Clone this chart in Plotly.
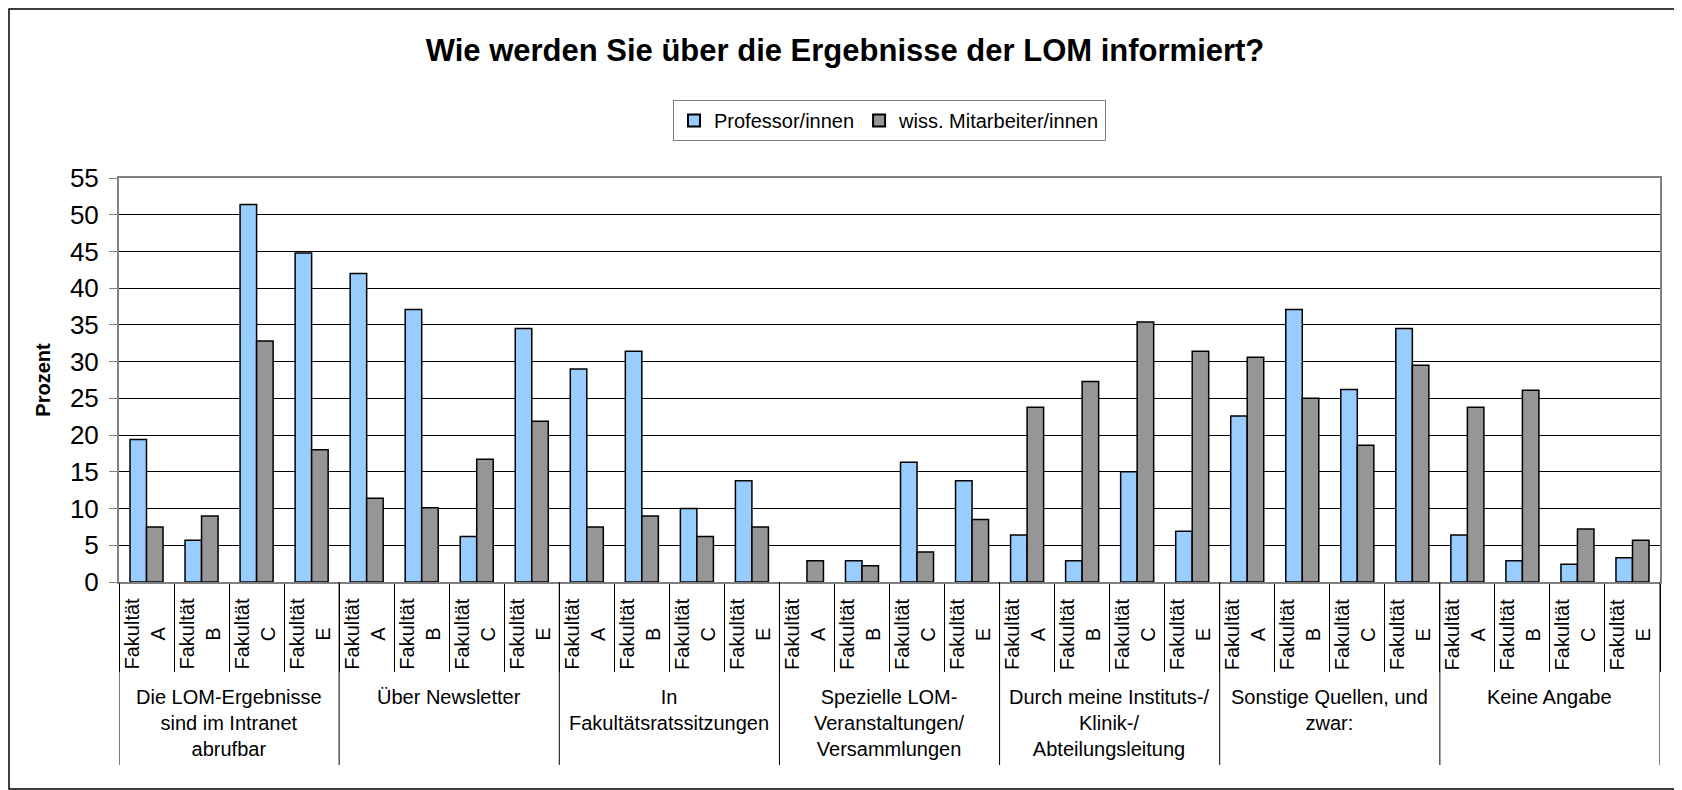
import plotly.graph_objects as go

title_text = "Wie werden Sie über die Ergebnisse der LOM informiert?"
y_title = "Prozent"
series_names = ["Professor/innen", "wiss. Mitarbeiter/innen"]

groups = [
    "Die LOM-Ergebnisse<br>sind im Intranet<br>abrufbar",
    "Über Newsletter",
    "In<br>Fakultätsratssitzungen",
    "Spezielle LOM-<br>Veranstaltungen/<br>Versammlungen",
    "Durch meine Instituts-/<br>Klinik-/<br>Abteilungsleitung",
    "Sonstige Quellen, und<br>zwar:",
    "Keine Angabe",
]
faculties = ["A", "B", "C", "E"]

prof = [19.4, 5.7, 51.4, 44.8,
        42.0, 37.1, 6.2, 34.5,
        29.0, 31.4, 10.0, 13.8,
        None, 2.9, 16.3, 13.8,
        6.4, 2.9, 15.0, 6.9,
        22.6, 37.1, 26.2, 34.5,
        6.4, 2.9, 2.4, 3.3]
staff = [7.5, 9.0, 32.8, 18.0,
         11.4, 10.1, 16.7, 21.9,
         7.5, 9.0, 6.2, 7.5,
         2.9, 2.2, 4.1, 8.5,
         23.8, 27.3, 35.4, 31.4,
         30.6, 25.0, 18.6, 29.5,
         23.8, 26.1, 7.2, 5.7]

y_ticks = list(range(0, 56, 5))

FONT = "Liberation Sans, Arial, sans-serif"

# category keys (one per group/faculty pair)
cats = [f"G{gi + 1} Fakultät {f}" for gi in range(len(groups)) for f in faculties]

OFF = 8  # page body margin
W, H = 1682 - OFF, 790 - OFF
L = 119 - OFF
R = W - (1660 - OFF)
T = 178 - OFF
B = H - (582 - OFF)
plot_w = W - L - R
plot_h = H - T - B


def py(page_y):
    """page pixel y -> paper y"""
    return (H - B - (page_y - OFF)) / plot_h


def px(page_x):
    return (page_x - OFF - L) / plot_w


fig = go.Figure()
fig.add_trace(go.Bar(x=cats, y=prof, name=series_names[0],
                     marker=dict(color="#99CCFF", line=dict(color="black", width=1.5))))
fig.add_trace(go.Bar(x=cats, y=staff, name=series_names[1],
                     marker=dict(color="#969696", line=dict(color="black", width=1.5))))

annotations = []
# inner labels
for i, c in enumerate(cats):
    f = faculties[i % len(faculties)]
    annotations.append(dict(
        x=i, y=py(634), xref="x", yref="paper",
        text=f"Fakultät<br>{f}", textangle=-90, showarrow=False,
        xanchor="center", yanchor="middle", xshift=-2,
        font=dict(family=FONT, size=20, color="black")))
# group labels
n = len(faculties)
for gi, g in enumerate(groups):
    annotations.append(dict(
        x=gi * n + (n - 1) / 2, y=py(684), xref="x", yref="paper",
        text=g, showarrow=False, xanchor="center", yanchor="top",
        font=dict(family=FONT, size=20, color="black")))

shapes = []
for gi in range(len(groups) + 1):
    shapes.append(dict(type="line", xref="x", yref="paper",
                       x0=gi * n - 0.5, x1=gi * n - 0.5, y0=0, y1=py(765),
                       line=dict(color="black", width=1)))
# outer chart border
shapes.append(dict(type="rect", xref="paper", yref="paper",
                   x0=px(9), x1=px(1681), y0=py(789), y1=py(9),
                   line=dict(color="black", width=1.5), layer="below"))

fig.update_layout(
    width=W, height=H,
    margin=dict(l=L, r=R, t=T, b=B),
    paper_bgcolor="white", plot_bgcolor="white",
    font=dict(family=FONT, color="black"),
    title=dict(text=f"<b>{title_text}</b>", x=0.5, xref="container",
               y=1 - (50 - OFF) / H, yref="container", yanchor="middle", xanchor="center",
               font=dict(family=FONT, size=31, color="black")),
    barmode="group", bargap=0.4, bargroupgap=0,
    showlegend=True,
    legend=dict(orientation="h", x=0.5, xanchor="center", y=py(100), yanchor="top",
                bordercolor="#808080", borderwidth=1, bgcolor="white",
                font=dict(family=FONT, size=20, color="black"),
                itemsizing="constant", tracegroupgap=0),
    annotations=annotations,
    shapes=shapes,
)

fig.update_xaxes(
    type="category", categoryorder="array", categoryarray=cats,
    showticklabels=False, tickson="boundaries", ticks="outside",
    ticklen=88, tickcolor="black", tickwidth=1,
    showline=True, linecolor="#808080", linewidth=2, mirror=True,
    showgrid=False, range=[-0.5, len(cats) - 0.5],
)
fig.update_yaxes(
    range=[0, 55], tickvals=y_ticks, ticks="outside", ticklen=8, tickcolor="#808080",
    tickfont=dict(family=FONT, size=26, color="black"), ticklabelstandoff=5,
    showgrid=True, gridcolor="black", gridwidth=1, zeroline=False,
    showline=True, linecolor="#808080", linewidth=2, mirror=True,
    title=dict(text=f"<b>{y_title}</b>", font=dict(family=FONT, size=20, color="black"),
               standoff=14),
)

fig.write_html("out.html")
